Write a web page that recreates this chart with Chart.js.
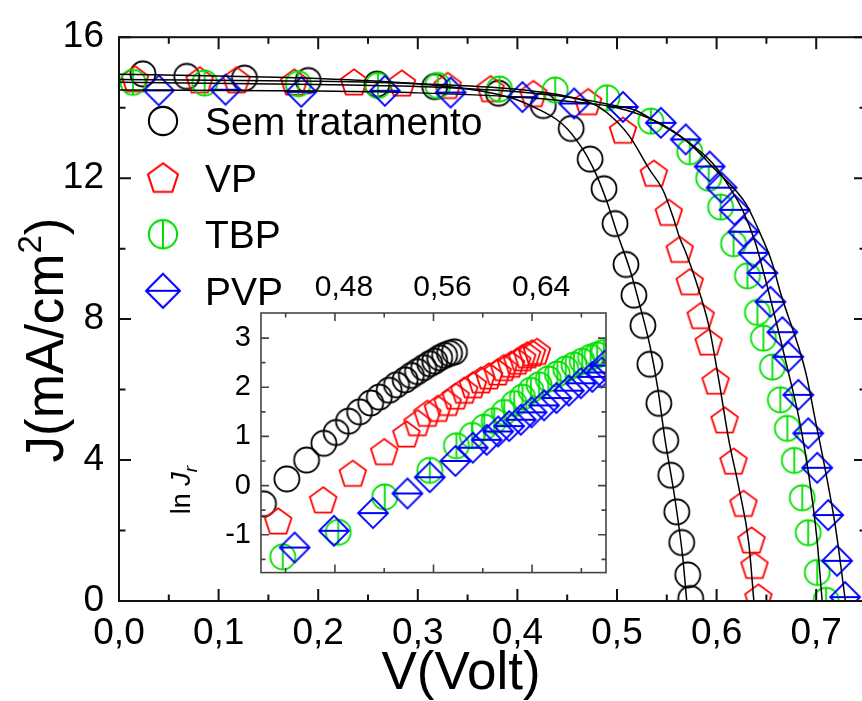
<!DOCTYPE html>
<html>
<head>
<meta charset="utf-8">
<script src="https://cdn.jsdelivr.net/npm/chart.js@4.4.0/dist/chart.umd.min.js"></script>
<style>
  html, body { margin: 0; padding: 0; background: #fff; overflow: hidden; }
  #wrap { position: relative; width: 862px; height: 701px; overflow: hidden; }
  #main { position: absolute; left: 0; top: 0; }
  #inset { position: absolute; left: 150px; top: 270px; }
</style>
</head>
<body>
<div id="wrap">
  <canvas id="main" width="880" height="701"></canvas>
  <canvas id="inset" width="470" height="330"></canvas>
</div>
<script>
/* Curvas J x V das células (sem tratamento, VP, TBP, PVP) + inset ln Jr x V */

const seriesNames = ['Sem tratamento', 'VP', 'TBP', 'PVP'];

// pontos medidos, J(mA/cm2) x V(Volt)
const semV = [0.024, 0.068, 0.126, 0.190, 0.259, 0.317, 0.381, 0.426, 0.454, 0.473, 0.487, 0.498, 0.509, 0.517, 0.526, 0.533, 0.542, 0.549, 0.554, 0.560, 0.565, 0.571, 0.574];
const semJ = [14.96, 14.89, 14.84, 14.77, 14.67, 14.60, 14.41, 14.06, 13.41, 12.54, 11.70, 10.71, 9.55, 8.68, 7.82, 6.72, 5.61, 4.56, 3.57, 2.53, 1.66, 0.74, 0.07];

const vpV = [0.016, 0.081, 0.118, 0.176, 0.236, 0.284, 0.330, 0.373, 0.416, 0.471, 0.506, 0.537, 0.552, 0.563, 0.573, 0.584, 0.592, 0.599, 0.608, 0.617, 0.627, 0.635, 0.638, 0.642];
const vpJ = [14.82, 14.79, 14.79, 14.73, 14.73, 14.70, 14.63, 14.54, 14.40, 14.17, 13.36, 12.14, 11.03, 9.98, 9.06, 8.10, 7.35, 6.24, 5.14, 3.97, 2.77, 1.73, 1.01, 0.11];

const tbpV = [0.014, 0.086, 0.180, 0.260, 0.320, 0.382, 0.438, 0.490, 0.534, 0.573, 0.592, 0.604, 0.617, 0.631, 0.641, 0.647, 0.656, 0.664, 0.671, 0.678, 0.686, 0.692, 0.701, 0.710];
const tbpJ = [14.72, 14.70, 14.68, 14.63, 14.63, 14.53, 14.50, 14.28, 13.62, 12.75, 12.00, 11.18, 10.14, 9.23, 8.19, 7.46, 6.64, 5.71, 4.90, 3.99, 2.93, 1.94, 0.81, 0.02];

const pvpV = [0.040, 0.107, 0.183, 0.267, 0.333, 0.405, 0.457, 0.506, 0.544, 0.569, 0.593, 0.605, 0.618, 0.627, 0.637, 0.646, 0.654, 0.666, 0.672, 0.682, 0.692, 0.701, 0.712, 0.721, 0.729];
const pvpJ = [14.49, 14.51, 14.45, 14.48, 14.43, 14.30, 14.12, 14.02, 13.57, 13.10, 12.33, 11.73, 11.10, 10.48, 9.88, 9.31, 8.49, 7.63, 6.93, 5.85, 4.76, 3.78, 2.44, 1.14, 0.11];

// curvas ajustadas (linhas pretas)
const semFitV = [0, 0.10, 0.20, 0.30, 0.35, 0.38, 0.40, 0.42, 0.44, 0.45, 0.46, 0.47, 0.48, 0.49, 0.50, 0.513, 0.523, 0.533, 0.541, 0.548, 0.558, 0.566, 0.570];
const semFitJ = [14.95, 14.90, 14.83, 14.68, 14.53, 14.38, 14.22, 13.97, 13.65, 13.40, 13.05, 12.62, 12.05, 11.32, 10.45, 9.40, 8.38, 7.25, 6.03, 4.62, 2.93, 1.24, 0.0];

const vpFitV = [0, 0.20, 0.30, 0.40, 0.45, 0.48, 0.50, 0.513, 0.533, 0.546, 0.556, 0.563, 0.569, 0.579, 0.5925, 0.6025, 0.6125, 0.6224, 0.6324, 0.6374];
const vpFitJ = [14.80, 14.75, 14.68, 14.52, 14.32, 14.05, 13.60, 13.17, 12.23, 11.67, 10.92, 10.30, 9.90, 9.10, 7.77, 6.22, 4.53, 3.21, 1.62, 0.0];

const tbpFitV = [0, 0.20, 0.30, 0.40, 0.45, 0.50, 0.519, 0.539, 0.569, 0.596, 0.6125, 0.626, 0.639, 0.649, 0.672, 0.682, 0.692, 0.7006, 0.706];
const tbpFitJ = [14.72, 14.66, 14.60, 14.45, 14.30, 14.05, 13.92, 13.60, 13.08, 12.42, 11.76, 11.10, 10.16, 9.13, 6.50, 5.28, 3.68, 1.80, 0.0];

const pvpFitV = [0, 0.20, 0.30, 0.40, 0.45, 0.50, 0.54, 0.57, 0.60, 0.629, 0.642, 0.6557, 0.664, 0.6894, 0.6994, 0.7094, 0.7194, 0.7293];
const pvpFitJ = [14.50, 14.47, 14.42, 14.30, 14.18, 14.00, 13.60, 13.05, 12.20, 11.29, 10.54, 9.60, 8.76, 6.50, 5.09, 3.68, 2.09, 0.0];

// inset: ln Jr x V
const inSemV = [0.422, 0.441, 0.457, 0.471, 0.481, 0.491, 0.500, 0.509, 0.516, 0.524, 0.530, 0.537, 0.542, 0.547, 0.552, 0.557, 0.561, 0.565, 0.569, 0.573, 0.577];
const inSemL = [-0.37, 0.135, 0.52, 0.86, 1.08, 1.31, 1.50, 1.68, 1.80, 1.94, 2.05, 2.15, 2.24, 2.32, 2.40, 2.48, 2.53, 2.60, 2.65, 2.69, 2.72];

const inVpV = [0.434, 0.4705, 0.4945, 0.520, 0.538, 0.547, 0.555, 0.5635, 0.5715, 0.578, 0.585, 0.592, 0.5985, 0.605, 0.612, 0.617, 0.623, 0.628, 0.632, 0.636, 0.640, 0.644];
const inVpL = [-0.72, -0.29, 0.25, 0.69, 1.05, 1.28, 1.47, 1.57, 1.69, 1.82, 1.94, 2.05, 2.15, 2.23, 2.31, 2.40, 2.47, 2.53, 2.60, 2.66, 2.70, 2.73];

const inTbpV = [0.4377, 0.4827, 0.5204, 0.557, 0.5786, 0.5915, 0.6012, 0.6093, 0.6174, 0.6255, 0.6322, 0.639, 0.6457, 0.6532, 0.6605, 0.6673, 0.674, 0.6807, 0.6875, 0.6928, 0.6982];
const inTbpL = [-1.45, -0.95, -0.23, 0.31, 0.81, 1.02, 1.19, 1.32, 1.49, 1.67, 1.80, 1.94, 2.05, 2.17, 2.27, 2.37, 2.45, 2.53, 2.61, 2.66, 2.71];

const inPvpV = [0.4473, 0.4792, 0.5109, 0.5388, 0.557, 0.5778, 0.5919, 0.6032, 0.6125, 0.6214, 0.6309, 0.6396, 0.6497, 0.6598, 0.6699, 0.6796, 0.6889, 0.6965, 0.699];
const inPvpL = [-1.26, -0.92, -0.56, -0.16, 0.17, 0.50, 0.77, 0.93, 1.10, 1.21, 1.34, 1.49, 1.63, 1.78, 1.93, 2.08, 2.21, 2.30, 2.44];

// ticks
const mainXTicks = [0, 0.1, 0.2, 0.3, 0.4, 0.5, 0.6, 0.7];
const mainXMinor = [0.05, 0.15, 0.25, 0.35, 0.45, 0.55, 0.65];
const mainYTicks = [0, 4, 8, 12, 16];
const mainYMinor = [2, 6, 10, 14];
const insetXTicks = [0.48, 0.56, 0.64];
const insetXMinor = [0.44, 0.52, 0.60, 0.68];
const insetYTicks = [-1, 0, 1, 2, 3];
const insetYMinor = [-1.5, -0.5, 0.5, 1.5, 2.5];

const FONT = '"Liberation Sans", Arial, Helvetica, sans-serif';
Chart.defaults.font.family = FONT;
Chart.defaults.color = '#000';

// marcadores desenhados num canvas próprio (pentágono, círculo cortado, losango cortado)
function marker(kind, color, scale) {
    const s = scale || 1;
    const size = 2 * Math.ceil(18 * s);
    const c = document.createElement('canvas');
    c.width = size; c.height = size;
    const g = c.getContext('2d');
    g.translate(size / 2, size / 2);
    g.scale(s, s);
    g.strokeStyle = color;
    g.lineWidth = 1.8;
    g.beginPath();
    if (kind === 'circle' || kind === 'circleBar') {
        g.arc(0, 0, 12.5, 0, Math.PI * 2);
        if (kind === 'circleBar') { g.moveTo(0, -12.5); g.lineTo(0, 12.5); }
    } else if (kind === 'pentagon') {
        const R = 14;
        for (let i = 0; i < 5; i++) {
            const a = -Math.PI / 2 + i * 2 * Math.PI / 5;
            const px = R * Math.cos(a), py = R * Math.sin(a) + 1.3;
            if (i === 0) g.moveTo(px, py); else g.lineTo(px, py);
        }
        g.closePath();
    } else if (kind === 'diamond') {
        const d = 15;
        g.moveTo(0, -d); g.lineTo(d, 0); g.lineTo(0, d); g.lineTo(-d, 0); g.closePath();
        g.moveTo(-d, 0); g.lineTo(d, 0);
    }
    g.stroke();
    return c;
}

const styles = [
    ['circle', '#000000'],
    ['pentagon', '#ff0000'],
    ['circleBar', '#00e000'],
    ['diamond', '#0000ff'],
];
const icons = styles.map(s => marker(s[0], s[1], 1));
const legendIcons = styles.map(s => marker(s[0], s[1], 1.13));

const pts = (xs, ys) => xs.map((x, i) => ({x: x, y: ys[i]}));

function markerSet(idx, v, j) {
    return {
        label: seriesNames[idx],
        data: pts(v, j),
        pointStyle: icons[idx],
        pointRadius: 13,
        pointHoverRadius: 13,
        showLine: false,
        clip: 0,
        order: 4 - idx,
    };
}

function fitSet(v, j) {
    return {
        label: 'ajuste',
        data: pts(v, j),
        showLine: true,
        borderColor: '#000',
        borderWidth: 1.5,
        pointRadius: 0,
        cubicInterpolationMode: 'monotone',
        clip: 0,
        order: 0,
    };
}

// moldura + ticks para dentro nos quatro lados
function axisFrame(cfg) {
    return {
        id: 'axisFrame',
        afterDatasetsDraw(chart) {
            const {ctx, chartArea: a} = chart;
            const xs = chart.scales.x, ys = chart.scales.y;
            ctx.save();
            ctx.strokeStyle = cfg.color;
            ctx.lineWidth = cfg.width;
            ctx.beginPath();
            const tx = (v, len) => {
                const p = xs.getPixelForValue(v);
                ctx.moveTo(p, a.bottom); ctx.lineTo(p, a.bottom - len);
                ctx.moveTo(p, a.top); ctx.lineTo(p, a.top + len);
            };
            const ty = (v, len) => {
                const p = ys.getPixelForValue(v);
                ctx.moveTo(a.left, p); ctx.lineTo(a.left + len, p);
                ctx.moveTo(a.right, p); ctx.lineTo(a.right - len, p);
            };
            cfg.xMajor.forEach(v => tx(v, cfg.major));
            cfg.xMinor.forEach(v => tx(v, cfg.minor));
            cfg.yMajor.forEach(v => ty(v, cfg.major));
            cfg.yMinor.forEach(v => ty(v, cfg.minor));
            ctx.stroke();
            ctx.strokeRect(a.left, a.top, a.right - a.left, a.bottom - a.top);
            ctx.restore();
        }
    };
}

// títulos dos eixos e legenda do gráfico principal
const mainDecor = {
    id: 'mainDecor',
    afterDraw(chart) {
        const ctx = chart.ctx;
        ctx.save();
        ctx.fillStyle = '#000';
        ctx.textBaseline = 'alphabetic';

        // V(Volt)
        ctx.font = '53px ' + FONT;
        ctx.textAlign = 'center';
        ctx.fillText('V(Volt)', 461, 689);

        // J(mA/cm²)
        ctx.textAlign = 'left';
        const big = '53px ' + FONT, small = '33px ' + FONT;
        ctx.font = big;
        const w1 = ctx.measureText('J(mA/cm').width;
        const w3 = ctx.measureText(')').width;
        ctx.font = small;
        const w2 = ctx.measureText('2').width;
        const total = w1 + w2 + w3;
        ctx.translate(63, 340 + total / 2);
        ctx.rotate(-Math.PI / 2);
        ctx.font = big;
        ctx.fillText('J(mA/cm', 0, 0);
        ctx.font = small;
        ctx.fillText('2', w1, -22);
        ctx.font = big;
        ctx.fillText(')', w1 + w2, 0);
        ctx.setTransform(1, 0, 0, 1, 0, 0);

        // legenda
        ctx.font = '39px ' + FONT;
        seriesNames.forEach((name, i) => {
            const ic = legendIcons[i];
            const cy = 121 + i * 56.6;
            ctx.drawImage(ic, 163 - ic.width / 2, cy - ic.height / 2);
            ctx.fillText(name, 205, cy + 14);
        });
        ctx.restore();
    }
};

new Chart(document.getElementById('main'), {
    type: 'scatter',
    data: {
        datasets: [
            markerSet(0, semV, semJ),
            markerSet(1, vpV, vpJ),
            markerSet(2, tbpV, tbpJ),
            markerSet(3, pvpV, pvpJ),
            fitSet(semFitV, semFitJ),
            fitSet(vpFitV, vpFitJ),
            fitSet(tbpFitV, tbpFitJ),
            fitSet(pvpFitV, pvpFitJ),
        ]
    },
    options: {
        responsive: false,
        animation: false,
        devicePixelRatio: 1,
        events: [],
        layout: { padding: { top: 33, right: 9, left: 0, bottom: 0 } },
        plugins: { legend: { display: false }, tooltip: { enabled: false } },
        scales: {
            x: {
                type: 'linear', min: 0, max: 0.75,
                grid: { display: false, drawTicks: false },
                border: { display: false },
                afterBuildTicks: s => { s.ticks = mainXTicks.map(v => ({value: v})); },
                afterFit: s => { s.height = 100; },
                ticks: {
                    font: { size: 37 }, padding: 11, maxRotation: 0,
                    callback: v => v.toFixed(1).replace('.', ',')
                }
            },
            y: {
                type: 'linear', min: 0, max: 16,
                grid: { display: false, drawTicks: false },
                border: { display: false },
                afterBuildTicks: s => { s.ticks = mainYTicks.map(v => ({value: v})); },
                afterFit: s => { s.width = 119; },
                ticks: { font: { size: 37 }, padding: 15, callback: v => String(v) }
            }
        }
    },
    plugins: [
        axisFrame({ color: '#111', width: 2, major: 12, minor: 6.5,
                    xMajor: mainXTicks, xMinor: mainXMinor, yMajor: mainYTicks, yMinor: mainYMinor }),
        mainDecor
    ]
});

// rótulo do eixo y do inset: ln J_r
const insetDecor = {
    id: 'insetDecor',
    afterDraw(chart) {
        const ctx = chart.ctx;
        ctx.save();
        ctx.fillStyle = '#000';
        ctx.textBaseline = 'alphabetic';
        ctx.textAlign = 'left';
        const f1 = '27px ' + FONT, f2 = 'italic 27px ' + FONT, f3 = 'italic 19px ' + FONT;
        ctx.font = f1; const a = ctx.measureText('ln ').width;
        ctx.font = f2; const b = ctx.measureText('J').width;
        ctx.font = f3; const c = ctx.measureText('r').width;
        ctx.translate(40, 220 + (a + b + c) / 2);
        ctx.rotate(-Math.PI / 2);
        ctx.font = f1; ctx.fillText('ln ', 0, 0);
        ctx.font = f2; ctx.fillText('J', a, 0);
        ctx.font = f3; ctx.fillText('r', a + b, 7);
        ctx.restore();
    }
};

new Chart(document.getElementById('inset'), {
    type: 'scatter',
    data: {
        datasets: [
            markerSet(0, inSemV, inSemL),
            markerSet(1, inVpV, inVpL),
            markerSet(2, inTbpV, inTbpL),
            markerSet(3, inPvpV, inPvpL),
        ]
    },
    options: {
        responsive: false,
        animation: false,
        devicePixelRatio: 1,
        events: [],
        layout: { padding: { top: 0, right: 12, left: 0, bottom: 14 } },
        plugins: { legend: { display: false }, tooltip: { enabled: false } },
        scales: {
            x: {
                type: 'linear', position: 'top', min: 0.42, max: 0.70,
                grid: { display: false, drawTicks: false },
                border: { display: false },
                afterBuildTicks: s => { s.ticks = insetXTicks.map(v => ({value: v})); },
                afterFit: s => { s.height = 43; },
                ticks: {
                    font: { size: 30 }, padding: 7, labelOffset: 9, maxRotation: 0,
                    callback: v => v.toFixed(2).replace('.', ',')
                }
            },
            y: {
                type: 'linear', min: -1.77, max: 3.51,
                grid: { display: false, drawTicks: false },
                border: { display: false },
                afterBuildTicks: s => { s.ticks = insetYTicks.map(v => ({value: v})); },
                afterFit: s => { s.width = 111; },
                ticks: { font: { size: 29 }, padding: 10, callback: v => String(v) }
            }
        }
    },
    plugins: [
        axisFrame({ color: '#444', width: 1.6, major: 8, minor: 4.5,
                    xMajor: insetXTicks, xMinor: insetXMinor, yMajor: insetYTicks, yMinor: insetYMinor }),
        insetDecor
    ]
});
</script>
</body>
</html>
